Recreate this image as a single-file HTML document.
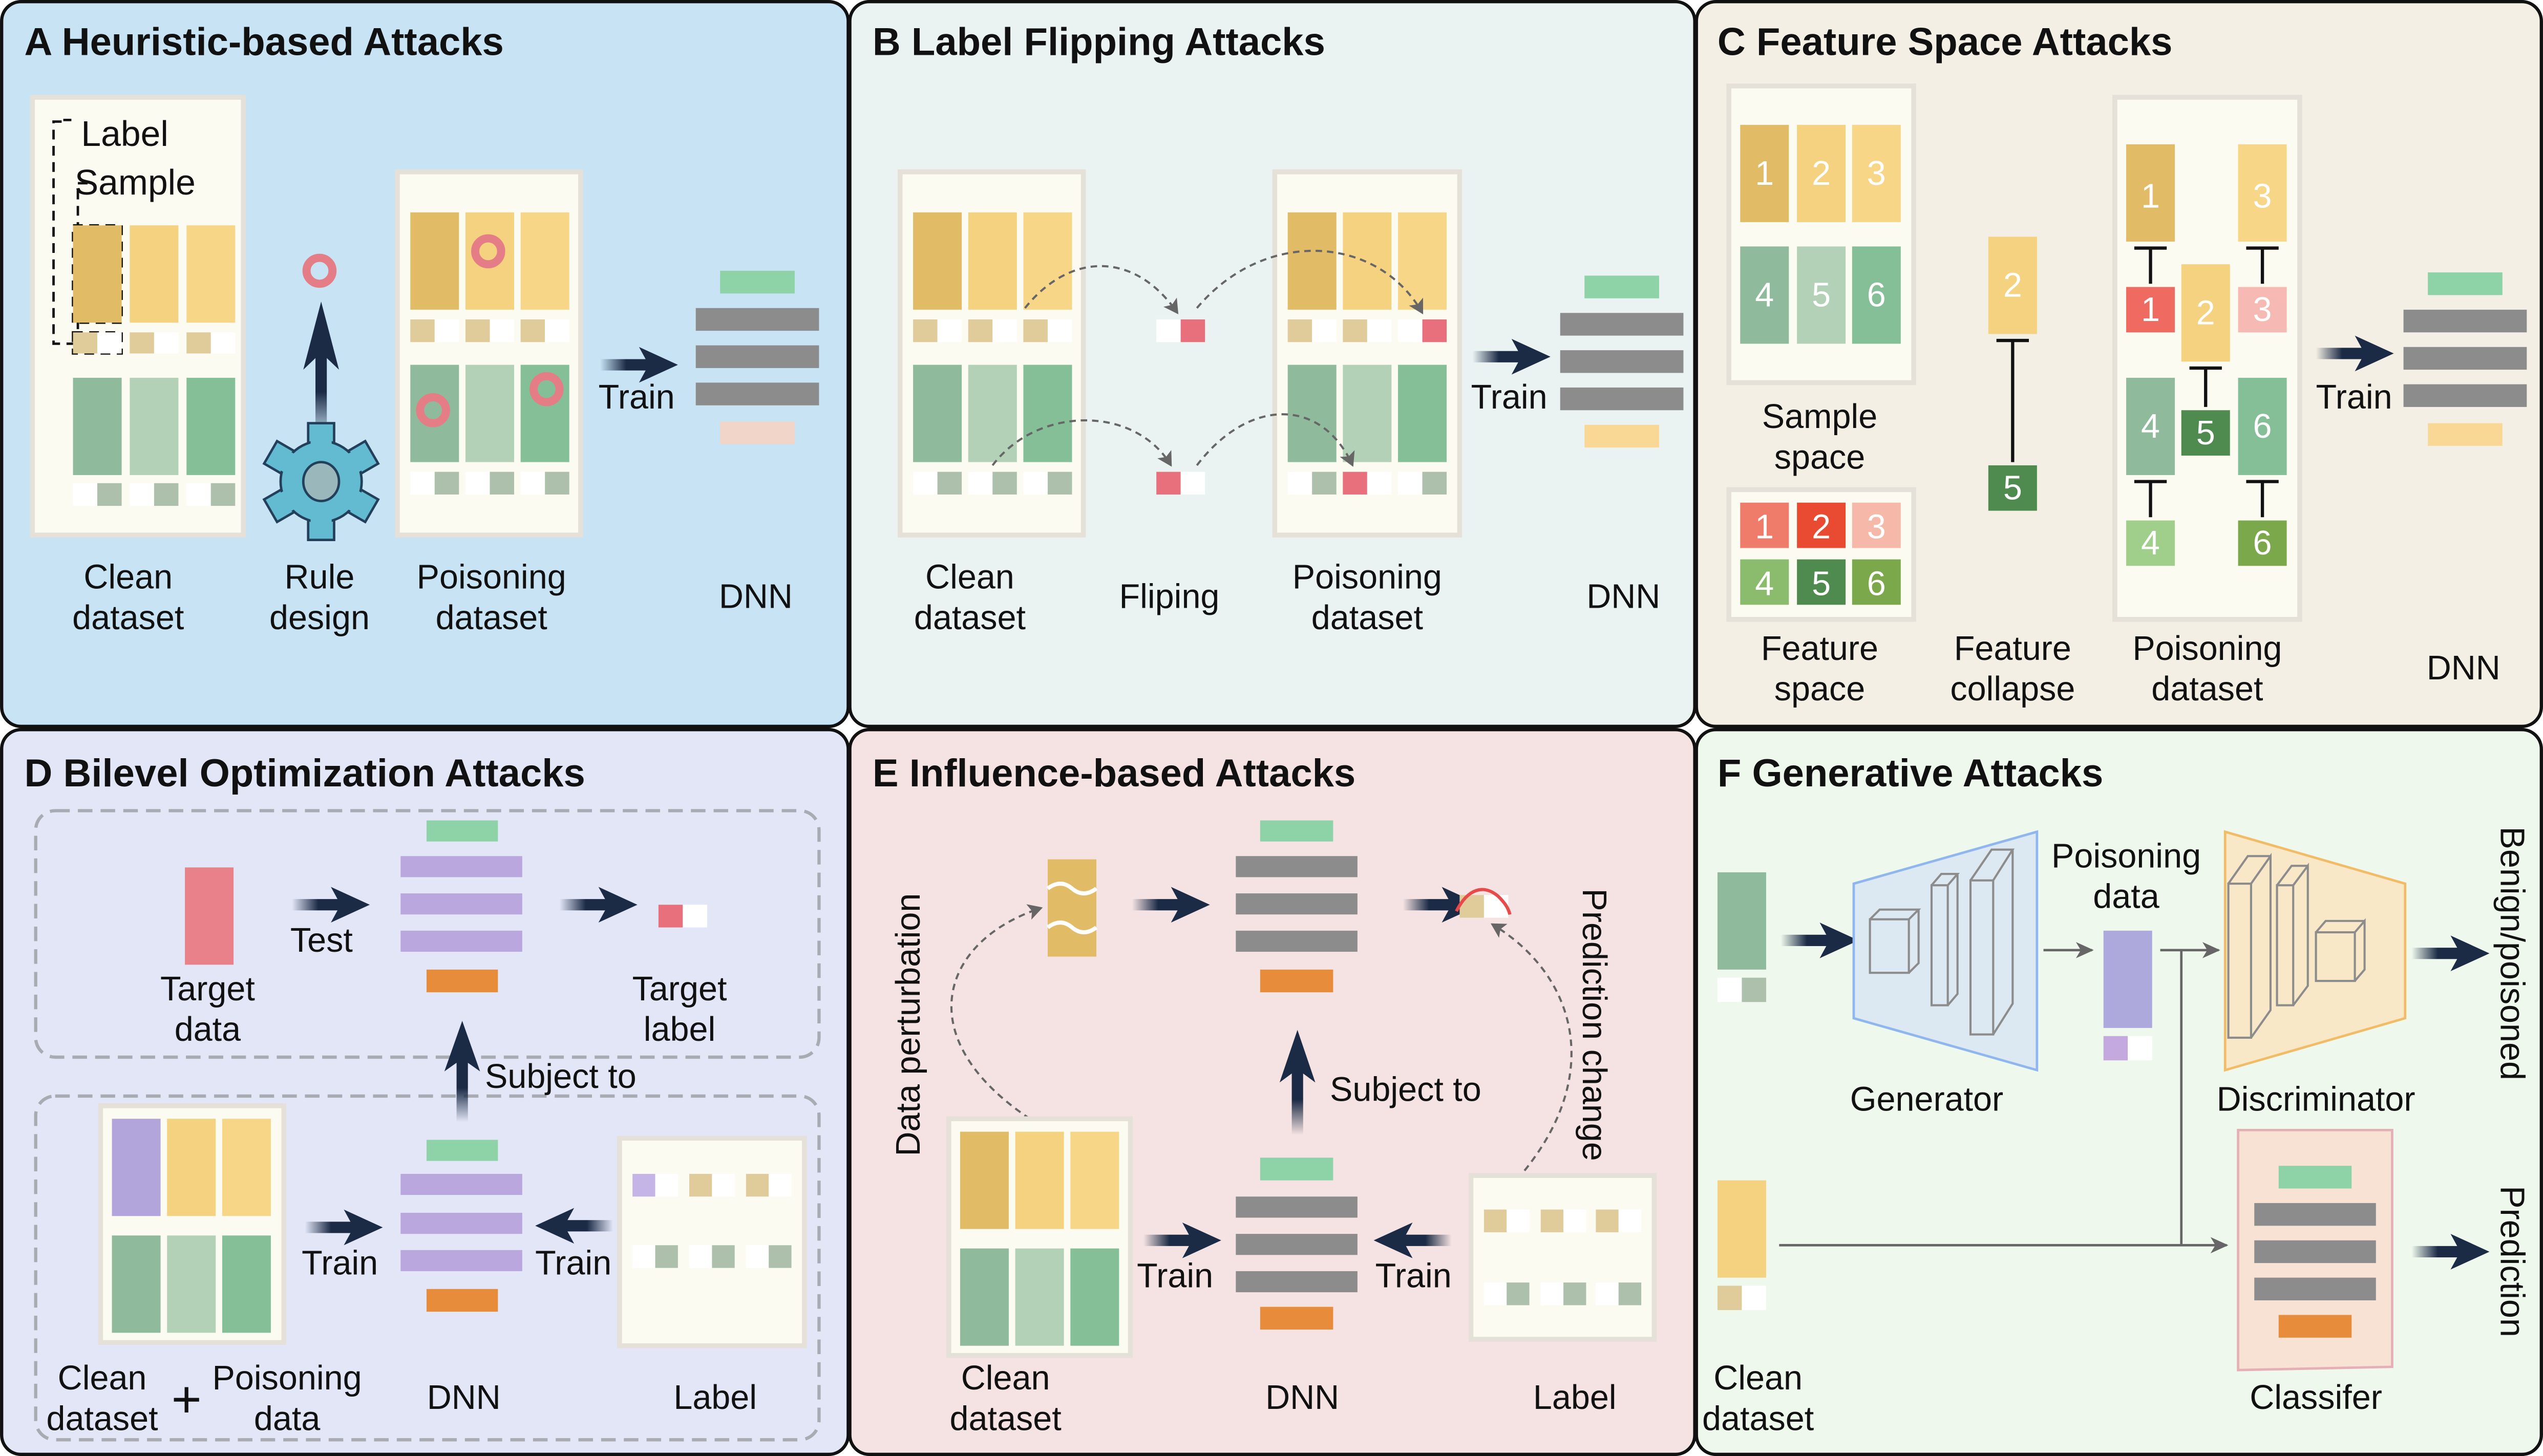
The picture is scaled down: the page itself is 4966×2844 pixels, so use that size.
<!DOCTYPE html>
<html><head><meta charset="utf-8"><style>
html,body{margin:0;padding:0;background:#fff}
svg{display:block}
text{font-family:"Liberation Sans",sans-serif;fill:#111}
.t{font-size:24px;font-weight:bold}
.l{font-size:21px}
.w{fill:#fff}
</style></head><body>
<svg width="4966" height="2844" viewBox="0 0 1568 898" xmlns="http://www.w3.org/2000/svg">
<defs>
<linearGradient id="sg" x1="0" x2="1" y1="0" y2="0"><stop offset="0" stop-color="#1b2a45" stop-opacity="0"/><stop offset="0.45" stop-color="#1b2a45"/></linearGradient>
<g id="ar"><rect x="0" y="-3.5" width="36" height="7" fill="url(#sg)"/><path d="M24,-11 L48,0 L24,11 L30,0 Z" fill="#1b2a45"/></g>
<marker id="gm" markerWidth="12" markerHeight="12" refX="10" refY="6" orient="auto" markerUnits="userSpaceOnUse"><path d="M0,1 L11,6 L0,11 L3,6 Z" fill="#666"/></marker>
<marker id="dm" markerWidth="10" markerHeight="10" refX="8" refY="5" orient="auto" markerUnits="userSpaceOnUse"><path d="M0,0 L9,5 L0,10 L2,5 Z" fill="#666"/></marker>
</defs>
<!-- panels -->
<rect x="1" y="1" width="522" height="447" rx="12" fill="#c7e3f4" stroke="#111" stroke-width="2"/>
<rect x="524" y="1" width="521" height="447" rx="12" fill="#eaf3f2" stroke="#111" stroke-width="2"/>
<rect x="1046" y="1" width="521" height="447" rx="12" fill="#f3efe4" stroke="#111" stroke-width="2"/>
<rect x="1" y="450" width="522" height="447" rx="12" fill="#e2e6f7" stroke="#111" stroke-width="2"/>
<rect x="524" y="450" width="521" height="447" rx="12" fill="#f5e3e3" stroke="#111" stroke-width="2"/>
<rect x="1046" y="450" width="521" height="447" rx="12" fill="#eef8ec" stroke="#111" stroke-width="2"/>
<text class="t" x="15" y="34">A Heuristic-based Attacks</text>
<text class="t" x="538" y="34">B Label Flipping Attacks</text>
<text class="t" x="1059" y="34">C Feature Space Attacks</text>
<text class="t" x="15" y="485">D Bilevel Optimization Attacks</text>
<text class="t" x="538" y="485">E Influence-based Attacks</text>
<text class="t" x="1059" y="485">F Generative Attacks</text>

<!-- ===== A ===== -->
<rect x="20" y="60" width="130" height="270" fill="#fcfbf1" stroke="#e5e0d8" stroke-width="3"/>
<text x="50" y="90" font-size="22">Label</text><text x="46" y="120" font-size="22">Sample</text>
<g fill="none" stroke="#111" stroke-width="1.5" stroke-dasharray="6,4">
<path d="M44,74 H39"/><path d="M38,75 H33 V212 H46"/><path d="M54,113 H48 V210"/>
<rect x="45" y="139" width="30" height="60"/><rect x="45" y="205" width="30" height="13"/></g>
<rect x="45" y="139" width="30" height="60" fill="#e1bb66"/><rect x="80" y="139" width="30" height="60" fill="#f4d27f"/><rect x="115" y="139" width="30" height="60" fill="#f7d687"/>
<rect x="45" y="205" width="15" height="13" fill="#e0cb9a"/><rect x="60" y="205" width="15" height="13" fill="#fff"/>
<rect x="80" y="205" width="15" height="13" fill="#e0cb9a"/><rect x="95" y="205" width="15" height="13" fill="#fff"/>
<rect x="115" y="205" width="15" height="13" fill="#e0cb9a"/><rect x="130" y="205" width="15" height="13" fill="#fff"/>
<rect x="45" y="233" width="30" height="60" fill="#8fba9c"/><rect x="80" y="233" width="30" height="60" fill="#b3d1b7"/><rect x="115" y="233" width="30" height="60" fill="#85bf97"/>
<rect x="45" y="298" width="15" height="14" fill="#fff"/><rect x="60" y="298" width="15" height="14" fill="#adc0ac"/>
<rect x="80" y="298" width="15" height="14" fill="#fff"/><rect x="95" y="298" width="15" height="14" fill="#adc0ac"/>
<rect x="115" y="298" width="15" height="14" fill="#fff"/><rect x="130" y="298" width="15" height="14" fill="#adc0ac"/>
<circle cx="197" cy="167" r="8" fill="none" stroke="#e47d86" stroke-width="5"/>
<use href="#ar" transform="translate(198,270) rotate(-90) scale(1.75,1)"/>
<g transform="translate(198,297)" stroke="#23405a" stroke-width="1.5" fill="#62bbd0">
<g id="teeth"><rect x="-8" y="-36" width="16" height="14"/><rect x="-8" y="-36" width="16" height="14" transform="rotate(60)"/><rect x="-8" y="-36" width="16" height="14" transform="rotate(120)"/><rect x="-8" y="-36" width="16" height="14" transform="rotate(180)"/><rect x="-8" y="-36" width="16" height="14" transform="rotate(240)"/><rect x="-8" y="-36" width="16" height="14" transform="rotate(300)"/></g>
<circle r="25"/>
<g stroke="none"><rect x="-6.5" y="-28" width="13" height="8"/><rect x="-6.5" y="-28" width="13" height="8" transform="rotate(60)"/><rect x="-6.5" y="-28" width="13" height="8" transform="rotate(120)"/><rect x="-6.5" y="-28" width="13" height="8" transform="rotate(180)"/><rect x="-6.5" y="-28" width="13" height="8" transform="rotate(240)"/><rect x="-6.5" y="-28" width="13" height="8" transform="rotate(300)"/></g>
<ellipse cx="0" cy="0" rx="11" ry="12" fill="#9ab8bb"/></g>
<rect x="245" y="106" width="113" height="224" fill="#fcfbf1" stroke="#e5e0d8" stroke-width="3"/>
<rect x="253" y="131" width="30" height="60" fill="#e1bb66"/><rect x="287" y="131" width="30" height="60" fill="#f4d27f"/><rect x="321" y="131" width="30" height="60" fill="#f7d687"/>
<rect x="253" y="197" width="15" height="14" fill="#e0cb9a"/><rect x="287" y="197" width="15" height="14" fill="#e0cb9a"/><rect x="321" y="197" width="15" height="14" fill="#e0cb9a"/>
<rect x="268" y="197" width="15" height="14" fill="#fff"/><rect x="302" y="197" width="15" height="14" fill="#fff"/><rect x="336" y="197" width="15" height="14" fill="#fff"/>
<rect x="253" y="225" width="30" height="60" fill="#8fba9c"/><rect x="287" y="225" width="30" height="60" fill="#b3d1b7"/><rect x="321" y="225" width="30" height="60" fill="#85bf97"/>
<rect x="253" y="291" width="15" height="14" fill="#fff"/><rect x="268" y="291" width="15" height="14" fill="#adc0ac"/>
<rect x="287" y="291" width="15" height="14" fill="#fff"/><rect x="302" y="291" width="15" height="14" fill="#adc0ac"/>
<rect x="321" y="291" width="15" height="14" fill="#fff"/><rect x="336" y="291" width="15" height="14" fill="#adc0ac"/>
<g fill="none" stroke="#e47d86" stroke-width="5"><circle cx="301" cy="155" r="8"/><circle cx="267" cy="253" r="8"/><circle cx="337" cy="240" r="8"/></g>
<use href="#ar" transform="translate(370,225)"/><text class="l" x="369" y="252">Train</text>
<rect x="444" y="167" width="46" height="14" fill="#8ed3a8"/>
<rect x="429" y="190" width="76" height="14" fill="#8c8c8c"/><rect x="429" y="213" width="76" height="14" fill="#8c8c8c"/><rect x="429" y="236" width="76" height="14" fill="#8c8c8c"/>
<rect x="444" y="260" width="46" height="14" fill="#f0d5c8"/>
<g class="l" text-anchor="middle"><text x="79" y="363">Clean</text><text x="79" y="388">dataset</text><text x="197" y="363">Rule</text><text x="197" y="388">design</text><text x="303" y="363">Poisoning</text><text x="303" y="388">dataset</text><text x="466" y="375">DNN</text></g>

<!-- ===== B ===== -->
<rect x="555" y="106" width="113" height="224" fill="#fcfbf1" stroke="#e5e0d8" stroke-width="3"/>
<rect x="563" y="131" width="30" height="60" fill="#e1bb66"/><rect x="597" y="131" width="30" height="60" fill="#f4d27f"/><rect x="631" y="131" width="30" height="60" fill="#f7d687"/>
<rect x="563" y="197" width="15" height="14" fill="#e0cb9a"/><rect x="597" y="197" width="15" height="14" fill="#e0cb9a"/><rect x="631" y="197" width="15" height="14" fill="#e0cb9a"/>
<rect x="578" y="197" width="15" height="14" fill="#fff"/><rect x="612" y="197" width="15" height="14" fill="#fff"/><rect x="646" y="197" width="15" height="14" fill="#fff"/>
<rect x="563" y="225" width="30" height="60" fill="#8fba9c"/><rect x="597" y="225" width="30" height="60" fill="#b3d1b7"/><rect x="631" y="225" width="30" height="60" fill="#85bf97"/>
<rect x="563" y="291" width="15" height="14" fill="#fff"/><rect x="578" y="291" width="15" height="14" fill="#adc0ac"/>
<rect x="597" y="291" width="15" height="14" fill="#fff"/><rect x="612" y="291" width="15" height="14" fill="#adc0ac"/>
<rect x="631" y="291" width="15" height="14" fill="#fff"/><rect x="646" y="291" width="15" height="14" fill="#adc0ac"/>
<rect x="786" y="106" width="114" height="224" fill="#fcfbf1" stroke="#e5e0d8" stroke-width="3"/>
<rect x="794" y="131" width="30" height="60" fill="#e1bb66"/><rect x="828" y="131" width="30" height="60" fill="#f4d27f"/><rect x="862" y="131" width="30" height="60" fill="#f7d687"/>
<rect x="794" y="197" width="15" height="14" fill="#e0cb9a"/><rect x="828" y="197" width="15" height="14" fill="#e0cb9a"/><rect x="877" y="197" width="15" height="14" fill="#e8707c"/>
<rect x="809" y="197" width="15" height="14" fill="#fff"/><rect x="843" y="197" width="15" height="14" fill="#fff"/><rect x="862" y="197" width="15" height="14" fill="#fff"/>
<rect x="794" y="225" width="30" height="60" fill="#8fba9c"/><rect x="828" y="225" width="30" height="60" fill="#b3d1b7"/><rect x="862" y="225" width="30" height="60" fill="#85bf97"/>
<rect x="794" y="291" width="15" height="14" fill="#fff"/><rect x="809" y="291" width="15" height="14" fill="#adc0ac"/>
<rect x="828" y="291" width="15" height="14" fill="#e8707c"/><rect x="843" y="291" width="15" height="14" fill="#fff"/>
<rect x="862" y="291" width="15" height="14" fill="#fff"/><rect x="877" y="291" width="15" height="14" fill="#adc0ac"/>
<rect x="713" y="197" width="15" height="14" fill="#fff"/><rect x="728" y="197" width="15" height="14" fill="#e8707c"/>
<rect x="713" y="291" width="15" height="14" fill="#e8707c"/><rect x="728" y="291" width="15" height="14" fill="#fff"/>
<g fill="none" stroke="#666" stroke-width="1.3" stroke-dasharray="4,3">
<path d="M632,190 C660,155 700,155 726,193" marker-end="url(#dm)"/>
<path d="M738,190 C780,140 850,145 877,193" marker-end="url(#dm)"/>
<path d="M612,287 C640,250 700,250 722,287" marker-end="url(#dm)"/>
<path d="M738,287 C770,245 815,245 834,287" marker-end="url(#dm)"/></g>
<use href="#ar" transform="translate(908,220)"/><text class="l" x="907" y="252">Train</text>
<rect x="977" y="170" width="46" height="14" fill="#8ed3a8"/>
<rect x="962" y="193" width="76" height="14" fill="#8c8c8c"/><rect x="962" y="216" width="76" height="14" fill="#8c8c8c"/><rect x="962" y="239" width="76" height="14" fill="#8c8c8c"/>
<rect x="977" y="262" width="46" height="14" fill="#f9d896"/>
<g class="l" text-anchor="middle"><text x="598" y="363">Clean</text><text x="598" y="388">dataset</text><text x="721" y="375">Fliping</text><text x="843" y="363">Poisoning</text><text x="843" y="388">dataset</text><text x="1001" y="375">DNN</text></g>

<!-- ===== C ===== -->
<g font-size="21" text-anchor="middle">
<rect x="1066" y="53" width="114" height="183" fill="#fcfbf1" stroke="#e5e0d8" stroke-width="3"/>
<rect x="1073" y="77" width="30" height="60" fill="#e1bb66"/><rect x="1108" y="77" width="30" height="60" fill="#f4d27f"/><rect x="1142" y="77" width="30" height="60" fill="#f7d687"/>
<rect x="1073" y="152" width="30" height="60" fill="#8fba9c"/><rect x="1108" y="152" width="30" height="60" fill="#b3d1b7"/><rect x="1142" y="152" width="30" height="60" fill="#85bf97"/>
<text class="w" x="1088" y="114">1</text><text class="w" x="1123" y="114">2</text><text class="w" x="1157" y="114">3</text><text class="w" x="1088" y="189">4</text><text class="w" x="1123" y="189">5</text><text class="w" x="1157" y="189">6</text>
<rect x="1066" y="302" width="114" height="80" fill="#fcfbf1" stroke="#e5e0d8" stroke-width="3"/>
<rect x="1073" y="310" width="30" height="28" fill="#ef7b6b"/><rect x="1108" y="310" width="30" height="28" fill="#e84a32"/><rect x="1142" y="310" width="30" height="28" fill="#f6b9a9"/>
<rect x="1073" y="345" width="30" height="28" fill="#8bbb6c"/><rect x="1108" y="345" width="30" height="28" fill="#4f8a4f"/><rect x="1142" y="345" width="30" height="28" fill="#7ba84a"/>
<text class="w" x="1088" y="332">1</text><text class="w" x="1123" y="332">2</text><text class="w" x="1157" y="332">3</text><text class="w" x="1088" y="367">4</text><text class="w" x="1123" y="367">5</text><text class="w" x="1157" y="367">6</text>
<rect x="1226" y="146" width="30" height="60" fill="#f4d27f"/><text class="w" x="1241" y="183">2</text>
<path d="M1231,210 H1251 M1241,210 V285" stroke="#111" stroke-width="2"/>
<rect x="1226" y="287" width="30" height="28" fill="#4f8a4f"/><text class="w" x="1241" y="308">5</text>
<rect x="1304" y="60" width="114" height="322" fill="#fcfbf1" stroke="#e5e0d8" stroke-width="3"/>
<rect x="1311" y="89" width="30" height="60" fill="#e1bb66"/><text class="w" x="1326" y="128">1</text>
<rect x="1380" y="89" width="30" height="60" fill="#f7d687"/><text class="w" x="1395" y="128">3</text>
<path d="M1316,153 H1336 M1326,153 V175 M1385,153 H1405 M1395,153 V175 M1350,227 H1370 M1360,227 V251 M1316,297 H1336 M1326,297 V319 M1385,297 H1405 M1395,297 V319" stroke="#111" stroke-width="2"/>
<rect x="1311" y="177" width="30" height="28" fill="#ef6b62"/><text class="w" x="1326" y="198">1</text>
<rect x="1345" y="163" width="30" height="60" fill="#f4d27f"/><text class="w" x="1360" y="200">2</text>
<rect x="1380" y="177" width="30" height="28" fill="#f6b9b4"/><text class="w" x="1395" y="198">3</text>
<rect x="1311" y="233" width="30" height="60" fill="#8fba9c"/><text class="w" x="1326" y="270">4</text>
<rect x="1345" y="253" width="30" height="28" fill="#4f8a4f"/><text class="w" x="1360" y="274">5</text>
<rect x="1380" y="233" width="30" height="60" fill="#85bf97"/><text class="w" x="1395" y="270">6</text>
<rect x="1311" y="321" width="30" height="28" fill="#9fcf8a"/><text class="w" x="1326" y="342">4</text>
<rect x="1380" y="321" width="30" height="28" fill="#7ba84a"/><text class="w" x="1395" y="342">6</text>
</g>
<use href="#ar" transform="translate(1428,218)"/><text class="l" x="1428" y="252">Train</text>
<rect x="1497" y="168" width="46" height="14" fill="#8ed3a8"/>
<rect x="1482" y="191" width="76" height="14" fill="#8c8c8c"/><rect x="1482" y="214" width="76" height="14" fill="#8c8c8c"/><rect x="1482" y="237" width="76" height="14" fill="#8c8c8c"/>
<rect x="1497" y="261" width="46" height="14" fill="#f9d896"/>
<g class="l" text-anchor="middle"><text x="1122" y="264">Sample</text><text x="1122" y="289">space</text><text x="1122" y="407">Feature</text><text x="1122" y="432">space</text><text x="1241" y="407">Feature</text><text x="1241" y="432">collapse</text><text x="1361" y="407">Poisoning</text><text x="1361" y="432">dataset</text><text x="1519" y="419">DNN</text></g>

<!-- ===== D ===== -->
<rect x="22" y="500" width="483" height="152" rx="12" fill="none" stroke="#a9abb3" stroke-width="2" stroke-dasharray="9,5"/>
<rect x="22" y="676" width="483" height="212" rx="12" fill="none" stroke="#a9abb3" stroke-width="2" stroke-dasharray="9,5"/>
<rect x="114" y="535" width="30" height="60" fill="#e8818a"/>
<use href="#ar" transform="translate(180,558)"/><text class="l" x="179" y="587">Test</text>
<rect x="263" y="506" width="44" height="13" fill="#8ed3a8"/>
<rect x="247" y="528" width="75" height="13" fill="#b9a7dd"/><rect x="247" y="551" width="75" height="13" fill="#b9a7dd"/><rect x="247" y="574" width="75" height="13" fill="#b9a7dd"/>
<rect x="263" y="598" width="44" height="14" fill="#e68c3a"/>
<use href="#ar" transform="translate(345,558)"/>
<rect x="406" y="558" width="15" height="14" fill="#e8707c"/><rect x="421" y="558" width="15" height="14" fill="#fff"/>
<use href="#ar" transform="translate(285,692) rotate(-90) scale(1.3,1)"/>
<text class="l" x="299" y="671">Subject to</text>
<rect x="62" y="682" width="113" height="146" fill="#fcfbf1" stroke="#e5e0d8" stroke-width="3"/>
<rect x="69" y="690" width="30" height="60" fill="#b1a5dc"/><rect x="103" y="690" width="30" height="60" fill="#f4d27f"/><rect x="137" y="690" width="30" height="60" fill="#f7d687"/>
<rect x="69" y="762" width="30" height="60" fill="#8fba9c"/><rect x="103" y="762" width="30" height="60" fill="#b3d1b7"/><rect x="137" y="762" width="30" height="60" fill="#85bf97"/>
<use href="#ar" transform="translate(188,757)"/><text class="l" x="186" y="786">Train</text>
<rect x="263" y="703" width="44" height="13" fill="#8ed3a8"/>
<rect x="247" y="724" width="75" height="13" fill="#b9a7dd"/><rect x="247" y="748" width="75" height="13" fill="#b9a7dd"/><rect x="247" y="771" width="75" height="13" fill="#b9a7dd"/>
<rect x="263" y="795" width="44" height="14" fill="#e68c3a"/>
<use href="#ar" transform="translate(378,756) scale(-1,1)"/><text class="l" x="330" y="786">Train</text>
<rect x="382" y="702" width="114" height="128" fill="#fcfbf1" stroke="#e5e0d8" stroke-width="3"/>
<rect x="390" y="724" width="14" height="14" fill="#c4b5e6"/><rect x="404" y="724" width="14" height="14" fill="#fff"/><rect x="425" y="724" width="14" height="14" fill="#e0cb9a"/><rect x="439" y="724" width="14" height="14" fill="#fff"/><rect x="460" y="724" width="14" height="14" fill="#e0cb9a"/><rect x="474" y="724" width="14" height="14" fill="#fff"/>
<rect x="390" y="768" width="14" height="14" fill="#fff"/><rect x="404" y="768" width="14" height="14" fill="#adc0ac"/><rect x="425" y="768" width="14" height="14" fill="#fff"/><rect x="439" y="768" width="14" height="14" fill="#adc0ac"/><rect x="460" y="768" width="14" height="14" fill="#fff"/><rect x="474" y="768" width="14" height="14" fill="#adc0ac"/>
<g class="l" text-anchor="middle"><text x="128" y="617">Target</text><text x="128" y="642">data</text><text x="419" y="617">Target</text><text x="419" y="642">label</text>
<text x="63" y="857">Clean</text><text x="63" y="882">dataset</text><text x="115" y="874" font-size="32">+</text><text x="177" y="857">Poisoning</text><text x="177" y="882">data</text><text x="286" y="869">DNN</text><text x="441" y="869">Label</text></g>

<!-- ===== E ===== -->
<rect x="646" y="530" width="30" height="60" fill="#e1bb66"/>
<path d="M646,548 q8,-6 15,0 t15,0 M646,572 q8,-6 15,0 t15,0" stroke="#fff" stroke-width="2.5" fill="none"/>
<use href="#ar" transform="translate(698,558)"/>
<rect x="777" y="506" width="45" height="13" fill="#8ed3a8"/>
<rect x="762" y="528" width="75" height="13" fill="#8c8c8c"/><rect x="762" y="551" width="75" height="13" fill="#8c8c8c"/><rect x="762" y="574" width="75" height="13" fill="#8c8c8c"/>
<rect x="777" y="598" width="45" height="14" fill="#e68c3a"/>
<use href="#ar" transform="translate(865,558)"/>
<rect x="900" y="552" width="15" height="14" fill="#e0cb9a"/><rect x="915" y="552" width="15" height="14" fill="#fff"/>
<path d="M898,562 C905,548 915,545 924,553 C928,557 930,560 931,564" stroke="#e84a4a" stroke-width="2" fill="none"/>
<g fill="none" stroke="#666" stroke-width="1.3" stroke-dasharray="4,3">
<path d="M635,690 C560,640 580,580 642,560" marker-end="url(#dm)"/>
<path d="M940,722 C990,660 970,600 920,570" marker-end="url(#dm)"/></g>
<text class="l" transform="translate(567,632) rotate(-90)" text-anchor="middle">Data perturbation</text>
<text class="l" transform="translate(976,632) rotate(90)" text-anchor="middle">Prediction change</text>
<use href="#ar" transform="translate(800,700) rotate(-90) scale(1.35,1)"/>
<text class="l" x="820" y="679">Subject to</text>
<rect x="585" y="690" width="112" height="146" fill="#fcfbf1" stroke="#e5e0d8" stroke-width="3"/>
<rect x="592" y="698" width="30" height="60" fill="#e1bb66"/><rect x="626" y="698" width="30" height="60" fill="#f4d27f"/><rect x="660" y="698" width="30" height="60" fill="#f7d687"/>
<rect x="592" y="770" width="30" height="60" fill="#8fba9c"/><rect x="626" y="770" width="30" height="60" fill="#b3d1b7"/><rect x="660" y="770" width="30" height="60" fill="#85bf97"/>
<use href="#ar" transform="translate(705,765)"/><text class="l" x="701" y="794">Train</text>
<rect x="777" y="714" width="45" height="14" fill="#8ed3a8"/>
<rect x="762" y="738" width="75" height="13" fill="#8c8c8c"/><rect x="762" y="761" width="75" height="13" fill="#8c8c8c"/><rect x="762" y="784" width="75" height="13" fill="#8c8c8c"/>
<rect x="777" y="806" width="45" height="14" fill="#e68c3a"/>
<use href="#ar" transform="translate(895,765) scale(-1,1)"/><text class="l" x="848" y="794">Train</text>
<rect x="907" y="725" width="113" height="101" fill="#fcfbf1" stroke="#e5e0d8" stroke-width="3"/>
<rect x="915" y="746" width="14" height="14" fill="#e0cb9a"/><rect x="929" y="746" width="14" height="14" fill="#fff"/><rect x="950" y="746" width="14" height="14" fill="#e0cb9a"/><rect x="964" y="746" width="14" height="14" fill="#fff"/><rect x="984" y="746" width="14" height="14" fill="#e0cb9a"/><rect x="998" y="746" width="14" height="14" fill="#fff"/>
<rect x="915" y="791" width="14" height="14" fill="#fff"/><rect x="929" y="791" width="14" height="14" fill="#adc0ac"/><rect x="950" y="791" width="14" height="14" fill="#fff"/><rect x="964" y="791" width="14" height="14" fill="#adc0ac"/><rect x="984" y="791" width="14" height="14" fill="#fff"/><rect x="998" y="791" width="14" height="14" fill="#adc0ac"/>
<g class="l" text-anchor="middle"><text x="620" y="857">Clean</text><text x="620" y="882">dataset</text><text x="803" y="869">DNN</text><text x="971" y="869">Label</text></g>

<!-- ===== F ===== -->
<rect x="1059" y="538" width="30" height="60" fill="#8fba9c"/><rect x="1059" y="603" width="15" height="15" fill="#fff"/><rect x="1074" y="603" width="15" height="15" fill="#adc0ac"/>
<use href="#ar" transform="translate(1098,580)"/>
<path d="M1143,545 L1256,513 L1256,660 L1143,628 Z" fill="#dde9f2" stroke="#8fb6ee" stroke-width="1.5"/>
<path d="M1372,513 L1483,545 L1483,628 L1372,660 Z" fill="#f8e8c8" stroke="#f2bb66" stroke-width="1.5"/>
<g fill="none" stroke="#8c8c8c" stroke-width="1.3">
<path d="M1153,600 h24 v-33 h-24 z M1153,567 l6,-6 h24 l-6,6 M1183,561 v33 l-6,6"/>
<path d="M1191,620 h10 v-74 h-10 z M1191,546 l6,-7 h10 l-6,7 M1207,539 v74 l-6,7"/>
<path d="M1215,638 h14 v-95 h-14 z M1215,543 l13,-19 h13 l-12,19 M1241,524 v95 l-12,19"/>
<path d="M1374,640 h14 v-95 h-14 z M1388,640 l12,-17 v-95 l-12,17 M1374,545 l12,-17 h14"/>
<path d="M1404,620 h10 v-74 h-10 z M1414,620 l9,-12 v-74 l-9,12 M1404,546 l9,-12 h10"/>
<path d="M1428,605 h24 v-30 h-24 z M1452,605 l6,-7 v-30 l-6,7 M1428,575 l6,-7 h24"/></g>
<rect x="1297" y="574" width="30" height="60" fill="#aea9dc"/><rect x="1297" y="639" width="15" height="15" fill="#c3a9dd"/><rect x="1312" y="639" width="15" height="15" fill="#fff"/>
<path d="M1260,586 H1290" stroke="#666" stroke-width="1.5" marker-end="url(#gm)"/>
<path d="M1332,586 H1368" stroke="#666" stroke-width="1.5" marker-end="url(#gm)"/>
<use href="#ar" transform="translate(1487,588)"/>
<text class="l" transform="translate(1542,588) rotate(90)" text-anchor="middle">Benign/poisoned</text>
<rect x="1059" y="728" width="30" height="60" fill="#f4d27f"/><rect x="1059" y="793" width="15" height="15" fill="#e0cb9a"/><rect x="1074" y="793" width="15" height="15" fill="#fff"/>
<path d="M1345,586 V768" stroke="#666" stroke-width="1.5"/>
<path d="M1097,768 H1373" stroke="#666" stroke-width="1.5" marker-end="url(#gm)"/>
<path d="M1380,697 L1475,697 L1475,843 L1380,845 Z" fill="#f8e2d4" stroke="#e6aeb5" stroke-width="1.5"/>
<rect x="1405" y="719" width="45" height="14" fill="#8ed3a8"/>
<rect x="1390" y="742" width="75" height="14" fill="#8c8c8c"/><rect x="1390" y="765" width="75" height="14" fill="#8c8c8c"/><rect x="1390" y="788" width="75" height="14" fill="#8c8c8c"/>
<rect x="1405" y="811" width="45" height="14" fill="#e68c3a"/>
<use href="#ar" transform="translate(1487,772)"/>
<text class="l" transform="translate(1542,778) rotate(90)" text-anchor="middle">Prediction</text>
<g class="l" text-anchor="middle"><text x="1188" y="685">Generator</text><text x="1311" y="535">Poisoning</text><text x="1311" y="560">data</text><text x="1428" y="685">Discriminator</text><text x="1084" y="857">Clean</text><text x="1084" y="882">dataset</text><text x="1428" y="869">Classifer</text></g>
</svg>
</body></html>
